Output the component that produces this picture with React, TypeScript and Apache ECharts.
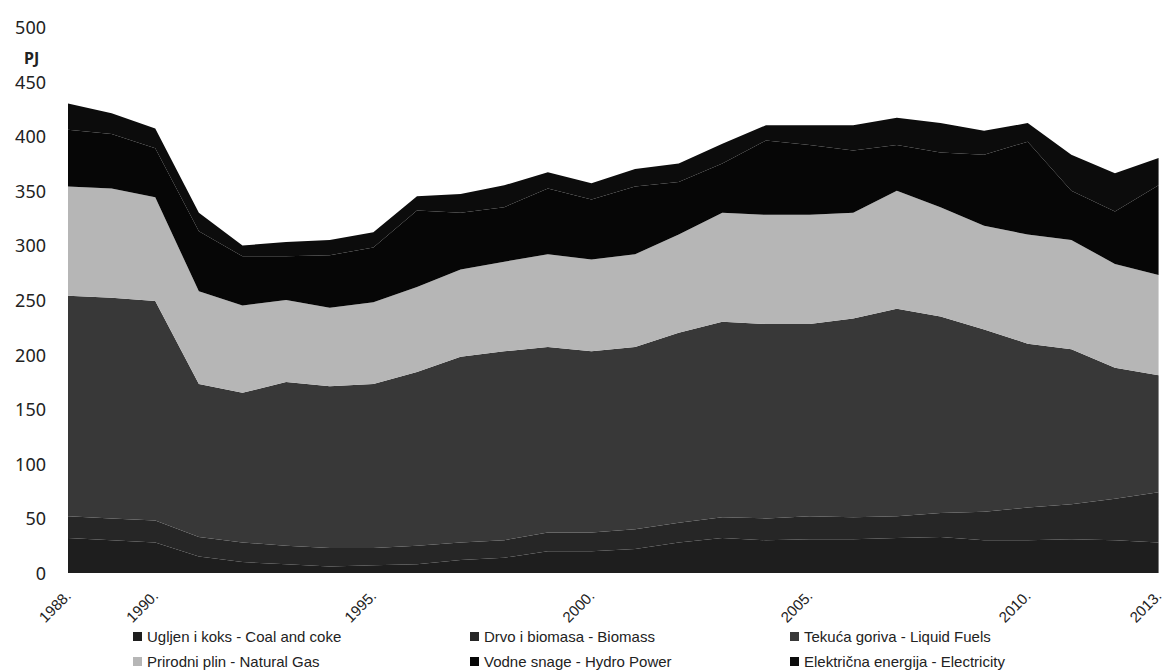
import React, { useEffect, useRef } from "react";
import * as echarts from "echarts";

const years = [
  "1988.", "1989.", "1990.", "1991.", "1992.", "1993.", "1994.", "1995.", "1996.",
  "1997.", "1998.", "1999.", "2000.", "2001.", "2002.", "2003.", "2004.", "2005.",
  "2006.", "2007.", "2008.", "2009.", "2010.", "2011.", "2012.", "2013.",
];
const shownYearIdx = [0, 2, 7, 12, 17, 22, 25];

const coal = [32, 30, 28, 15, 10, 8, 6, 7, 8, 12, 14, 20, 20, 22, 28, 32, 30, 31, 31, 32, 33, 30, 30, 31, 30, 28];
const biomass = [20, 20, 20, 18, 18, 17, 17, 16, 17, 16, 16, 17, 17, 18, 18, 19, 20, 21, 20, 20, 22, 26, 30, 32, 38, 46];
const liquid = [202, 202, 201, 140, 137, 150, 148, 150, 159, 170, 173, 170, 166, 167, 174, 179, 178, 176, 182, 190, 180, 167, 150, 142, 120, 107];
const gas = [100, 100, 95, 85, 80, 75, 72, 75, 78, 80, 82, 85, 84, 85, 90, 100, 100, 100, 97, 108, 100, 95, 100, 100, 95, 92];
const hydro = [52, 50, 45, 55, 45, 40, 48, 50, 70, 52, 50, 60, 55, 62, 48, 45, 68, 64, 57, 42, 50, 65, 85, 45, 48, 82];
const electricity = [24, 19, 18, 17, 10, 13, 14, 14, 13, 17, 20, 15, 15, 16, 17, 18, 14, 18, 23, 25, 27, 22, 17, 33, 35, 25];

const yTicks = { min: 0, max: 500, interval: 50 };

const seriesNames = [
  "Ugljen i koks - Coal and coke",
  "Drvo i biomasa - Biomass",
  "Tekuća goriva - Liquid Fuels",
  "Prirodni plin - Natural Gas",
  "Vodne snage - Hydro Power",
  "Električna energija - Electricity",
];
const seriesData = [coal, biomass, liquid, gas, hydro, electricity];
const seriesColors = ["#1e1e1e", "#262626", "#383838", "#b6b6b6", "#060606", "#0c0c0c"];

export default function App() {
  const ref = useRef<HTMLDivElement>(null);
  useEffect(() => {
    if (!ref.current) return;
    const chart = echarts.init(ref.current, null, { renderer: "svg" });
    const font = "'Liberation Sans Narrow', 'Liberation Sans', sans-serif";
    const legendPos = [
      { left: 128, top: 624 },
      { left: 465, top: 624 },
      { left: 785, top: 624 },
      { left: 128, top: 649 },
      { left: 465, top: 649 },
      { left: 785, top: 649 },
    ];
    chart.setOption({
      animation: false,
      backgroundColor: "#ffffff",
      title: {
        text: "PJ",
        left: 19,
        top: 45,
        textStyle: { fontSize: 16, fontWeight: "bold", color: "#222", fontFamily: "'Noto Sans', sans-serif" },
      },
      legend: seriesNames.map((n, i) => ({
        data: [n],
        left: legendPos[i].left,
        top: legendPos[i].top,
        icon: "rect",
        itemWidth: 9,
        itemHeight: 9,
        itemGap: 8,
        textStyle: { fontSize: 15, color: "#222", fontFamily: font },
      })),
      grid: { left: 68, right: 6, top: 27, bottom: 97 },
      xAxis: {
        type: "category",
        data: years,
        boundaryGap: false,
        axisLine: { show: false },
        axisTick: { show: false },
        axisLabel: {
          rotate: 45,
          margin: 20,
          fontSize: 15,
          color: "#222",
          fontFamily: font,
          interval: (idx: number) => shownYearIdx.includes(idx),
        },
      },
      yAxis: {
        type: "value",
        min: yTicks.min,
        max: yTicks.max,
        interval: yTicks.interval,
        axisLine: { show: false },
        axisTick: { show: false },
        splitLine: { show: false },
        axisLabel: { fontSize: 18, color: "#222", margin: 22, fontFamily: "'Noto Sans', sans-serif" },
      },
      series: seriesNames.map((n, i) => ({
        name: n,
        type: "line",
        stack: "total",
        data: seriesData[i],
        symbol: "none",
        lineStyle: { width: 0 },
        areaStyle: { color: seriesColors[i], opacity: 1 },
        itemStyle: { color: seriesColors[i] },
      })),
    });
    return () => chart.dispose();
  }, []);
  return (
    <div
      ref={ref}
      style={{ position: "fixed", left: 0, top: 0, width: 1166, height: 670 }}
    />
  );
}
